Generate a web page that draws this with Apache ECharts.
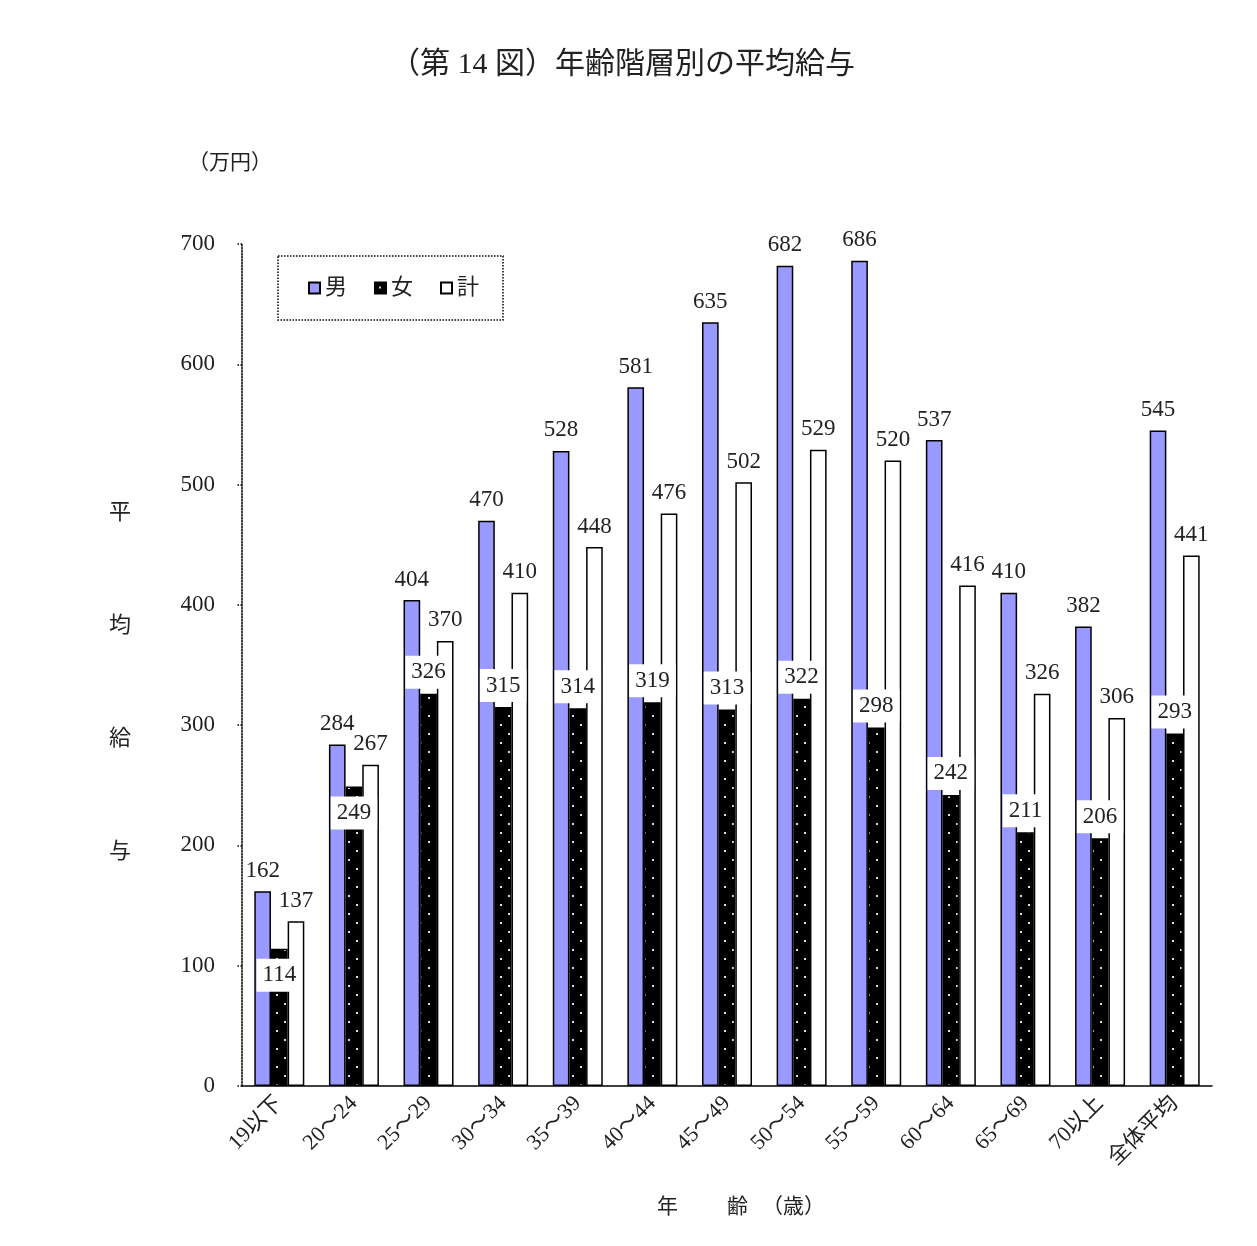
<!DOCTYPE html>
<html>
<head>
<meta charset="utf-8">
<script src="https://cdn.jsdelivr.net/npm/echarts@6/dist/echarts.min.js"></script>
<style>
  html, body { margin: 0; padding: 0; background: #fff; }
  #main { width: 1257px; height: 1246px; }
</style>
</head>
<body>
<div id="main"></div>
<script>
// age brackets and average pay (万円)
var categories = ['19以下', '20～24', '25～29', '30～34', '35～39', '40～44', '45～49',
  '50～54', '55～59', '60～64', '65～69', '70以上', '全体平均'];
var male = [162, 284, 404, 470, 528, 581, 635, 682, 686, 537, 410, 382, 545];
var female = [114, 249, 326, 315, 314, 319, 313, 322, 298, 242, 211, 206, 293];
var total = [137, 267, 370, 410, 448, 476, 502, 529, 520, 416, 326, 306, 441];
var yTicks = [0, 100, 200, 300, 400, 500, 600, 700];
// female labels that sit inside the bar (collide with neighbours otherwise)
var femaleInside = ['19以下', '20～24'];

var FONT = '"Liberation Serif", "Noto Sans CJK JP", serif';

// black fill with small white dots
function dotPattern() {
  var c = document.createElement('canvas');
  c.width = 16; c.height = 18;
  var g = c.getContext('2d');
  g.fillStyle = '#000';
  g.fillRect(0, 0, 16, 18);
  g.fillStyle = '#ddd';
  g.fillRect(4, 4, 2, 2);
  g.fillRect(12, 13, 2, 2);
  return c;
}

var chart = echarts.init(document.getElementById('main'));

var numLabel = {
  show: true,
  position: 'top',
  distance: 9,
  color: '#222',
  fontSize: 23,
  fontFamily: FONT
};

var femaleData = female.map(function (v, i) {
  var d = { value: v };
  if (femaleInside.indexOf(categories[i]) >= 0) {
    d.label = { position: 'insideTop', distance: 10 };
  }
  return d;
});

var option = {
  animation: false,
  backgroundColor: '#fff',
  textStyle: { fontFamily: FONT },
  title: {
    text: '（第 14 図）年齢階層別の平均給与',
    left: 385,
    top: 45,
    textStyle: { fontSize: 30, fontWeight: 'normal', color: '#222', fontFamily: FONT }
  },
  legend: {
    left: 278,
    top: 256,
    orient: 'horizontal',
    icon: 'rect',
    itemWidth: 11,
    itemHeight: 11,
    itemGap: 27,
    padding: [21, 24, 21, 30],
    borderColor: '#000',
    borderWidth: 1.5,
    borderType: 'dotted',
    textStyle: { fontSize: 22, color: '#222', fontFamily: FONT },
    data: ['男', '女', '計']
  },
  grid: { left: 242, right: 45, top: 244, bottom: 160 },
  xAxis: {
    type: 'category',
    data: categories,
    axisLine: { lineStyle: { color: '#000', width: 1.5 } },
    axisTick: { show: false },
    axisLabel: {
      rotate: 45,
      margin: 14,
      fontSize: 22,
      color: '#222',
      fontFamily: FONT,
      interval: 0
    }
  },
  yAxis: {
    type: 'value',
    min: 0,
    max: 700,
    interval: 100,
    axisLine: { show: true, lineStyle: { color: '#000', width: 1.5, type: 'dotted' } },
    axisTick: { show: true, length: 5, lineStyle: { color: '#000', width: 1.5, type: 'dotted' } },
    splitLine: { show: false },
    axisLabel: {
      margin: 27,
      fontSize: 23,
      color: '#222',
      fontFamily: FONT,
      formatter: function (v) { return yTicks.indexOf(v) >= 0 ? String(v) : ''; }
    }
  },
  graphic: [
    {
      type: 'text', left: 188, top: 153,
      style: { text: '（万円）', fill: '#222', font: '21px ' + FONT }
    },
    {
      type: 'text', left: 109, top: 457,
      style: { text: '平\n均\n給\n与', fill: '#222', font: '22px ' + FONT, lineHeight: 113 }
    },
    {
      type: 'text', left: 657, top: 1197,
      style: { text: '年', fill: '#222', font: '21px ' + FONT }
    },
    {
      type: 'text', left: 727, top: 1197,
      style: { text: '齢', fill: '#222', font: '21px ' + FONT }
    },
    {
      type: 'text', left: 762, top: 1197,
      style: { text: '（歳）', fill: '#222', font: '21px ' + FONT }
    }
  ],
  series: [
    {
      name: '男',
      type: 'bar',
      data: male,
      barGap: '0%',
      barCategoryGap: '33%',
      itemStyle: { color: '#9999ff', borderColor: '#000', borderWidth: 1.5 },
      label: numLabel
    },
    {
      name: '女',
      type: 'bar',
      data: femaleData,
      z: 5,
      itemStyle: { color: { image: dotPattern(), repeat: 'repeat' }, borderColor: '#000', borderWidth: 1.5 },
      label: {
        show: true,
        position: 'top',
        distance: 5,
        color: '#222',
        fontSize: 23,
        fontFamily: FONT,
        backgroundColor: '#fff',
        padding: [5, 6, 5, 6]
      }
    },
    {
      name: '計',
      type: 'bar',
      data: total,
      itemStyle: { color: '#fff', borderColor: '#000', borderWidth: 1.5 },
      label: numLabel
    }
  ]
};

chart.setOption(option);
</script>
</body>
</html>
